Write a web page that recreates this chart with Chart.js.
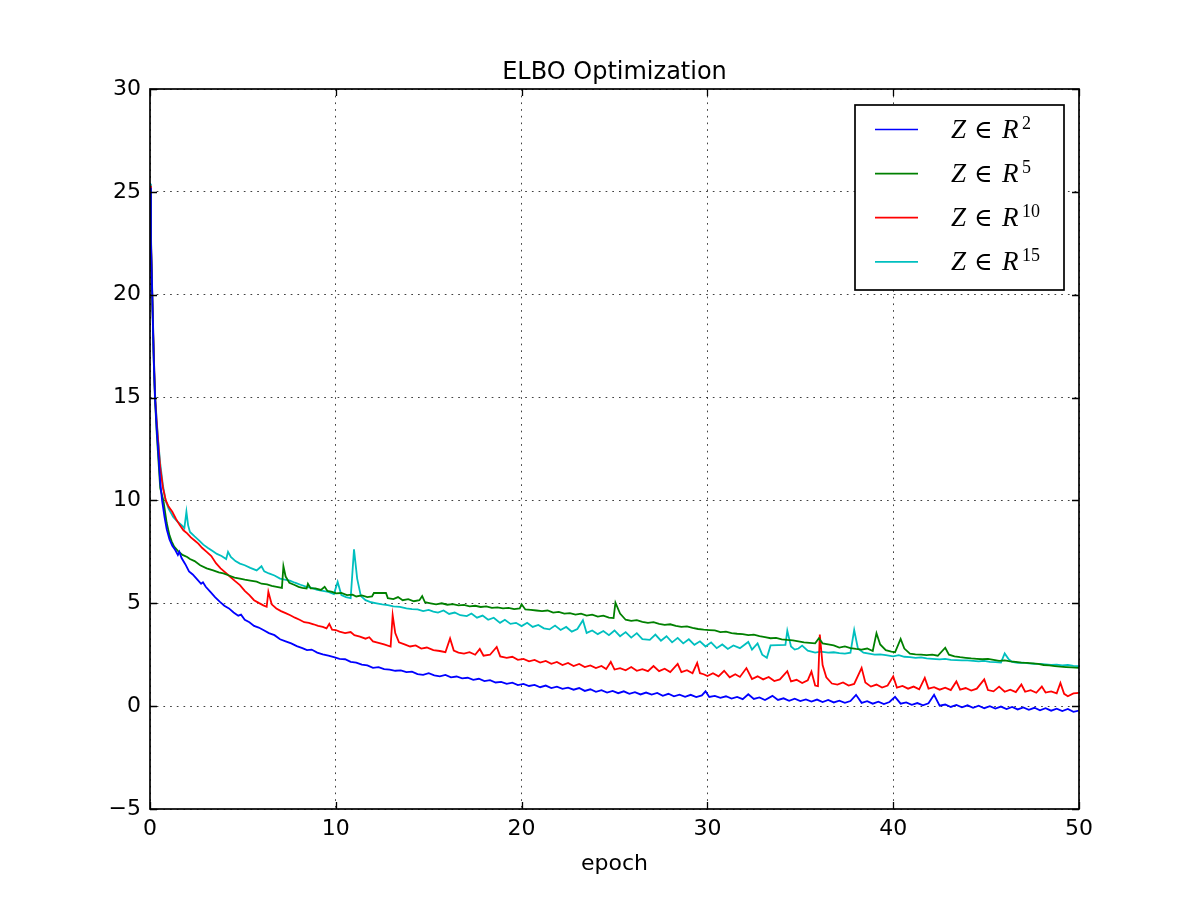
<!DOCTYPE html>
<html>
<head>
<meta charset="utf-8">
<title>ELBO Optimization</title>
<script src="https://cdn.jsdelivr.net/npm/chart.js@4/dist/chart.umd.min.js"></script>
<style>
  html, body { margin: 0; padding: 0; background: #fff; }
  canvas { display: block; }
</style>
</head>
<body>
<canvas id="elboChart" width="1200" height="900"></canvas>
<script>
// Axis ticks
const xTicks = [0, 10, 20, 30, 40, 50];
const yTicks = [-5, 0, 5, 10, 15, 20, 25, 30];

// Series labels (legend): base text + superscript
const seriesDims = ['2', '5', '10', '15'];
const seriesColours = ['#0000ff', '#008000', '#ff0000', '#00bfbf'];

// [epoch, loss]
const zR2 = [[0,25.2],[0.05,22.6],[0.12,20],[0.2,16.9],[0.27,15],[0.36,13.5],[0.45,12.3],[0.55,10.9],[0.65,10],[0.78,9.2],[0.9,8.6],[1.05,8.1],[1.2,7.8],[1.35,7.6],[1.5,7.35],[1.58,7.5],[1.7,7.2],[1.9,6.9],[2.1,6.55],[2.3,6.4],[2.55,6.15],[2.75,5.95],[2.85,6.02],[3.0,5.8],[3.25,5.55],[3.5,5.3],[3.75,5.08],[4.0,4.88],[4.25,4.75],[4.5,4.55],[4.75,4.4],[4.9,4.45],[5.1,4.2],[5.35,4.08],[5.6,3.9],[5.85,3.82],[6.1,3.7],[6.4,3.55],[6.7,3.45],[7.0,3.25],[7.3,3.15],[7.6,3.05],[7.9,2.92],[8.2,2.82],[8.45,2.72],[8.7,2.75],[9.0,2.6],[9.3,2.52],[9.6,2.45],[9.9,2.38],[10.2,2.3],[10.5,2.28],[10.8,2.15],[11.1,2.12],[11.4,2.02],[11.7,1.98],[12.0,1.86],[12.3,1.9],[12.6,1.8],[12.9,1.78],[13.2,1.72],[13.5,1.74],[13.8,1.65],[14.1,1.68],[14.4,1.56],[14.7,1.52],[15.0,1.6],[15.3,1.5],[15.6,1.45],[15.9,1.52],[16.2,1.4],[16.5,1.44],[16.8,1.35],[17.1,1.38],[17.4,1.28],[17.7,1.33],[18.0,1.22],[18.3,1.26],[18.6,1.15],[18.9,1.18],[19.2,1.08],[19.5,1.14],[19.8,1.02],[20.1,1.08],[20.4,0.98],[20.7,1.03],[21.0,0.92],[21.3,1.0],[21.6,0.88],[21.9,0.95],[22.2,0.84],[22.5,0.9],[22.8,0.8],[23.1,0.88],[23.4,0.74],[23.7,0.82],[24.0,0.7],[24.3,0.78],[24.6,0.66],[24.9,0.74],[25.2,0.63],[25.5,0.72],[25.8,0.6],[26.1,0.68],[26.4,0.57],[26.7,0.66],[27.0,0.56],[27.3,0.64],[27.6,0.5],[27.9,0.6],[28.2,0.48],[28.5,0.56],[28.8,0.45],[29.1,0.55],[29.4,0.44],[29.7,0.52],[29.9,0.72],[30.1,0.45],[30.4,0.5],[30.7,0.4],[31.0,0.48],[31.3,0.37],[31.6,0.45],[31.9,0.34],[32.2,0.58],[32.5,0.35],[32.8,0.42],[33.1,0.3],[33.5,0.5],[33.8,0.3],[34.1,0.38],[34.4,0.26],[34.7,0.36],[35.0,0.25],[35.3,0.33],[35.6,0.22],[35.9,0.32],[36.2,0.2],[36.5,0.3],[36.8,0.18],[37.1,0.27],[37.4,0.16],[37.7,0.25],[38.0,0.55],[38.3,0.16],[38.6,0.24],[38.9,0.12],[39.2,0.22],[39.5,0.1],[39.8,0.2],[40.1,0.45],[40.4,0.12],[40.7,0.18],[41.0,0.06],[41.3,0.15],[41.6,0.04],[41.9,0.14],[42.2,0.55],[42.5,0.02],[42.8,0.08],[43.1,-0.04],[43.4,0.06],[43.7,-0.06],[44.0,0.04],[44.3,-0.08],[44.6,0.02],[44.9,-0.1],[45.2,0.0],[45.5,-0.12],[45.8,-0.02],[46.1,-0.14],[46.4,-0.04],[46.7,-0.16],[47.0,-0.06],[47.3,-0.18],[47.6,-0.08],[47.9,-0.2],[48.2,-0.1],[48.5,-0.22],[48.8,-0.12],[49.1,-0.24],[49.4,-0.14],[49.7,-0.28],[50,-0.22]];

const zR5 = [[0,25.1],[0.05,22.4],[0.12,19.9],[0.2,16.8],[0.27,14.9],[0.36,13.3],[0.45,12.0],[0.55,10.6],[0.72,10.0],[0.9,8.9],[1.05,8.3],[1.17,8.0],[1.3,7.75],[1.5,7.55],[1.75,7.35],[2.0,7.25],[2.15,7.15],[2.4,7.05],[2.7,6.85],[3.05,6.7],[3.4,6.6],[3.7,6.5],[3.95,6.45],[4.25,6.35],[4.55,6.25],[4.84,6.2],[5.1,6.15],[5.4,6.1],[5.74,6.05],[6.0,5.95],[6.3,5.92],[6.55,5.85],[6.82,5.8],[7.1,5.75],[7.18,6.8],[7.3,6.3],[7.5,6.0],[7.75,5.9],[8.0,5.8],[8.2,5.75],[8.43,5.72],[8.5,5.95],[8.65,5.72],[8.9,5.72],[9.2,5.65],[9.4,5.8],[9.55,5.6],[9.8,5.55],[10.0,5.48],[10.3,5.5],[10.6,5.4],[10.9,5.42],[11.1,5.33],[11.4,5.38],[11.7,5.3],[11.95,5.33],[12.05,5.5],[12.7,5.5],[12.8,5.25],[13.1,5.2],[13.35,5.3],[13.6,5.15],[13.9,5.2],[14.2,5.1],[14.5,5.15],[14.65,5.35],[14.8,5.05],[15.1,5.0],[15.4,4.95],[15.7,5.0],[16.0,4.93],[16.3,4.96],[16.6,4.9],[16.9,4.92],[17.2,4.85],[17.5,4.88],[17.8,4.82],[18.1,4.85],[18.4,4.78],[18.7,4.8],[19.0,4.75],[19.3,4.78],[19.6,4.72],[19.9,4.75],[20.0,4.95],[20.2,4.7],[20.5,4.68],[20.8,4.65],[21.1,4.62],[21.4,4.65],[21.7,4.55],[22.0,4.58],[22.3,4.5],[22.6,4.52],[22.9,4.45],[23.2,4.5],[23.5,4.4],[23.8,4.45],[24.1,4.35],[24.4,4.4],[24.7,4.3],[24.95,4.28],[25.05,5.03],[25.3,4.5],[25.6,4.2],[25.9,4.15],[26.2,4.18],[26.5,4.1],[26.8,4.05],[27.1,4.08],[27.4,4.0],[27.7,3.95],[28.0,3.98],[28.3,3.9],[28.6,3.85],[28.9,3.88],[29.2,3.8],[29.5,3.75],[29.8,3.72],[30.1,3.7],[30.4,3.68],[30.7,3.6],[31.0,3.62],[31.3,3.55],[31.6,3.52],[31.9,3.5],[32.2,3.45],[32.5,3.48],[32.8,3.4],[33.1,3.35],[33.4,3.3],[33.7,3.32],[34.0,3.25],[34.3,3.22],[34.6,3.2],[34.9,3.15],[35.2,3.1],[35.5,3.08],[35.8,3.05],[36.0,3.3],[36.2,3.05],[36.5,3.0],[36.8,2.95],[37.1,2.85],[37.4,2.9],[37.7,2.82],[38.0,2.78],[38.3,2.75],[38.6,2.8],[38.9,2.68],[39.1,3.55],[39.3,3.0],[39.6,2.72],[39.9,2.65],[40.1,2.62],[40.4,3.27],[40.6,2.8],[40.9,2.55],[41.2,2.52],[41.5,2.5],[41.8,2.48],[42.1,2.5],[42.4,2.45],[42.8,2.84],[43.0,2.5],[43.3,2.42],[43.6,2.38],[43.9,2.35],[44.2,2.32],[44.5,2.3],[44.8,2.28],[45.1,2.3],[45.4,2.25],[45.7,2.2],[46.0,2.22],[46.3,2.18],[46.6,2.15],[46.9,2.12],[47.2,2.1],[47.5,2.08],[47.8,2.05],[48.1,2.0],[48.4,1.98],[48.7,1.95],[49.0,1.92],[49.3,1.9],[49.6,1.88],[50,1.86]];

const zR10 = [[0,25.3],[0.05,22.8],[0.12,20.1],[0.2,17.2],[0.27,15.1],[0.36,13.8],[0.45,12.7],[0.55,11.6],[0.7,10.6],[0.85,10.0],[1.0,9.7],[1.2,9.45],[1.4,9.1],[1.6,8.8],[1.8,8.55],[2.0,8.4],[2.2,8.2],[2.4,8.05],[2.6,7.9],[2.8,7.7],[3.05,7.5],[3.3,7.3],[3.55,6.95],[3.8,6.7],[4.05,6.5],[4.3,6.3],[4.55,6.1],[4.84,5.88],[5.1,5.6],[5.35,5.4],[5.6,5.15],[5.85,5.02],[6.1,4.9],[6.28,4.83],[6.37,5.56],[6.55,4.95],[6.8,4.75],[7.05,4.62],[7.3,4.52],[7.55,4.42],[7.8,4.3],[8.05,4.2],[8.3,4.08],[8.55,4.05],[8.8,3.98],[9.05,3.9],[9.3,3.85],[9.5,3.78],[9.65,4.0],[9.8,3.72],[10.0,3.7],[10.2,3.62],[10.5,3.55],[10.8,3.6],[11.0,3.45],[11.3,3.38],[11.6,3.28],[11.8,3.35],[12.0,3.15],[12.3,3.08],[12.6,3.0],[12.95,2.9],[13.06,4.42],[13.2,3.55],[13.4,3.1],[13.7,3.0],[14.0,2.9],[14.3,2.95],[14.6,2.8],[14.9,2.85],[15.25,2.72],[15.6,2.68],[15.9,2.62],[16.15,3.29],[16.35,2.7],[16.6,2.6],[16.9,2.55],[17.2,2.62],[17.5,2.5],[17.75,2.78],[17.95,2.45],[18.3,2.5],[18.66,2.88],[18.85,2.42],[19.2,2.35],[19.5,2.4],[19.8,2.25],[20.1,2.3],[20.4,2.18],[20.7,2.25],[21.0,2.12],[21.3,2.2],[21.6,2.06],[21.9,2.15],[22.2,2.0],[22.5,2.1],[22.8,1.95],[23.1,2.05],[23.4,1.9],[23.7,1.98],[24.0,1.85],[24.3,1.95],[24.55,1.8],[24.8,2.15],[25.0,1.78],[25.3,1.85],[25.6,1.74],[25.9,1.9],[26.2,1.72],[26.5,1.8],[26.8,1.7],[27.1,1.95],[27.4,1.7],[27.7,1.82],[28.0,1.66],[28.4,2.05],[28.6,1.65],[28.9,1.75],[29.2,1.6],[29.45,2.1],[29.6,1.6],[29.8,1.55],[30.0,1.46],[30.3,1.6],[30.6,1.45],[30.9,1.72],[31.2,1.4],[31.5,1.55],[31.75,1.42],[32.1,1.85],[32.4,1.32],[32.7,1.45],[33.0,1.3],[33.3,1.42],[33.6,1.22],[33.9,1.3],[34.3,1.7],[34.5,1.2],[34.8,1.28],[35.1,1.12],[35.4,1.25],[35.6,1.68],[35.8,1.0],[35.95,0.97],[36.05,3.48],[36.2,2.0],[36.4,1.4],[36.7,1.1],[37.0,1.05],[37.3,1.15],[37.6,1.0],[37.9,1.08],[38.3,1.86],[38.5,1.15],[38.8,0.95],[39.1,1.05],[39.4,0.9],[39.7,1.0],[40.0,1.45],[40.2,0.9],[40.5,0.98],[40.8,0.85],[41.1,0.95],[41.4,0.82],[41.7,1.38],[41.9,0.85],[42.2,0.92],[42.5,0.8],[42.8,0.9],[43.1,0.78],[43.4,1.2],[43.6,0.8],[43.9,0.88],[44.2,0.76],[44.5,0.85],[44.9,1.3],[45.1,0.78],[45.4,0.72],[45.7,0.95],[46.0,0.7],[46.3,0.8],[46.6,0.68],[46.9,1.05],[47.1,0.7],[47.4,0.78],[47.7,0.65],[48.0,0.95],[48.2,0.66],[48.5,0.72],[48.8,0.62],[49.0,1.13],[49.2,0.6],[49.4,0.48],[49.7,0.62],[50,0.65]];

const zR15 = [[0,25.4],[0.05,23],[0.12,20.2],[0.2,17.3],[0.27,15.2],[0.36,13.9],[0.45,12.8],[0.55,11.8],[0.7,10.7],[0.84,10.0],[1.0,9.6],[1.25,9.2],[1.5,8.95],[1.7,8.8],[1.85,8.65],[1.96,9.45],[2.05,8.8],[2.15,8.47],[2.4,8.25],[2.65,8.05],[2.87,7.85],[3.1,7.7],[3.35,7.55],[3.6,7.4],[3.85,7.3],[4.1,7.15],[4.2,7.5],[4.35,7.25],[4.6,7.05],[4.84,6.93],[5.1,6.85],[5.4,6.72],[5.74,6.6],[6.0,6.8],[6.15,6.55],[6.4,6.45],[6.7,6.35],[7.0,6.2],[7.25,6.15],[7.53,6.1],[7.8,6.0],[8.1,5.9],[8.43,5.8],[8.7,5.75],[9.0,5.65],[9.3,5.6],[9.6,5.55],[9.9,5.45],[10.1,6.04],[10.3,5.4],[10.55,5.3],[10.8,5.25],[10.98,7.62],[11.15,6.2],[11.35,5.35],[11.6,5.15],[11.9,5.05],[12.2,5.0],[12.5,4.95],[12.8,4.91],[13.1,4.85],[13.45,4.83],[13.8,4.75],[14.1,4.72],[14.4,4.7],[14.7,4.62],[15.0,4.68],[15.25,4.6],[15.5,4.55],[15.8,4.65],[16.1,4.48],[16.4,4.55],[16.7,4.42],[17.05,4.38],[17.3,4.5],[17.6,4.3],[17.9,4.4],[18.2,4.2],[18.5,4.3],[18.84,4.05],[19.1,4.2],[19.4,4.0],[19.7,4.05],[20.0,3.89],[20.3,4.05],[20.6,3.85],[20.9,3.95],[21.2,3.78],[21.5,3.73],[21.8,3.92],[22.1,3.7],[22.4,3.85],[22.7,3.62],[23.0,3.75],[23.3,4.18],[23.5,3.56],[23.8,3.68],[24.1,3.5],[24.4,3.65],[24.7,3.45],[25.0,3.68],[25.3,3.4],[25.6,3.6],[25.9,3.33],[26.2,3.55],[26.5,3.26],[26.9,3.22],[27.2,3.48],[27.5,3.18],[27.8,3.4],[28.1,3.1],[28.4,3.32],[28.7,3.05],[29.0,3.25],[29.3,2.98],[29.6,3.15],[29.9,2.9],[30.2,3.1],[30.5,2.82],[30.8,3.0],[31.1,2.78],[31.4,2.95],[31.75,2.82],[32.2,3.12],[32.4,2.75],[32.7,3.05],[32.95,2.5],[33.2,2.35],[33.4,2.95],[34.2,2.98],[34.3,3.67],[34.5,2.9],[34.7,2.75],[34.9,2.8],[35.1,2.94],[35.4,2.7],[35.8,2.6],[36.1,2.65],[36.5,2.6],[36.8,2.62],[37.1,2.58],[37.4,2.55],[37.7,2.6],[37.9,3.7],[38.1,2.8],[38.4,2.6],[38.7,2.55],[39.0,2.5],[39.3,2.52],[39.6,2.48],[40.0,2.42],[40.3,2.48],[40.6,2.4],[40.9,2.38],[41.2,2.35],[41.5,2.37],[41.8,2.32],[42.1,2.3],[42.5,2.27],[42.8,2.3],[43.1,2.25],[43.4,2.24],[43.7,2.22],[44.0,2.22],[44.3,2.2],[44.6,2.18],[44.9,2.2],[45.2,2.15],[45.5,2.14],[45.8,2.12],[46.0,2.56],[46.2,2.3],[46.4,2.15],[46.7,2.1],[47.0,2.12],[47.3,2.08],[47.6,2.06],[47.9,2.05],[48.2,2.03],[48.5,2.0],[48.8,2.02],[49.1,1.98],[49.4,2.0],[49.7,1.96],[50,1.95]];

const allSeries = [zR2, zR5, zR10, zR15];

const FONT = '"DejaVu Sans", sans-serif';
const MATH_FONT = '"Liberation Serif", "DejaVu Serif", serif';

// ------------------------------------------------------------------------
// Frame, inward ticks, title, x label and the mathtext legend
// ------------------------------------------------------------------------
const decorations = {
  id: 'decorations',
  afterDraw(chart) {
    const { ctx, chartArea: a, scales } = chart;
    ctx.save();

    // inward tick marks on all four sides
    ctx.strokeStyle = '#000';
    ctx.lineWidth = 1.3;
    const tl = 7;
    ctx.beginPath();
    xTicks.forEach(v => {
      const px = Math.round(scales.x.getPixelForValue(v)) + 0.5;
      ctx.moveTo(px, a.bottom); ctx.lineTo(px, a.bottom - tl);
      ctx.moveTo(px, a.top); ctx.lineTo(px, a.top + tl);
    });
    yTicks.forEach(v => {
      const py = Math.round(scales.y.getPixelForValue(v)) + 0.5;
      ctx.moveTo(a.left, py); ctx.lineTo(a.left + tl, py);
      ctx.moveTo(a.right, py); ctx.lineTo(a.right - tl, py);
    });
    ctx.stroke();

    // frame
    ctx.lineWidth = 1.7;
    ctx.strokeRect(a.left, a.top, a.right - a.left, a.bottom - a.top);

    // title and x label
    ctx.fillStyle = '#000';
    ctx.textAlign = 'center';
    ctx.textBaseline = 'alphabetic';
    ctx.font = '24px ' + FONT;
    ctx.fillText('ELBO Optimization', (a.left + a.right) / 2, 79);
    ctx.font = '22px ' + FONT;
    ctx.fillText('epoch', (a.left + a.right) / 2, 870);

    // legend box
    const bx = 855, by = 105, bw = 209, bh = 185;
    ctx.fillStyle = '#fff';
    ctx.fillRect(bx, by, bw, bh);
    ctx.lineWidth = 1.7;
    ctx.strokeStyle = '#000';
    ctx.strokeRect(bx, by, bw, bh);

    ctx.textAlign = 'left';
    seriesDims.forEach((dim, i) => {
      const cy = 129.5 + i * 44.1;
      ctx.strokeStyle = seriesColours[i];
      ctx.lineWidth = 1.7;
      ctx.beginPath();
      ctx.moveTo(875, cy); ctx.lineTo(918, cy);
      ctx.stroke();

      const base = cy + 8;
      ctx.fillStyle = '#000';
      ctx.font = 'italic 27px ' + MATH_FONT;
      ctx.fillText('Z', 951, base);
      ctx.font = '25px ' + MATH_FONT;
      ctx.fillText('\u2208', 974, base);
      ctx.font = 'italic 27px ' + MATH_FONT;
      ctx.fillText('R', 1002, base);
      ctx.font = '18px ' + MATH_FONT;
      ctx.fillText(dim, 1022, base - 9);
    });

    ctx.restore();
  }
};

new Chart(document.getElementById('elboChart').getContext('2d'), {
  type: 'line',
  data: {
    datasets: allSeries.map((s, i) => ({
      label: 'Z \u2208 R^' + seriesDims[i],
      data: s.map(p => ({ x: p[0], y: p[1] })),
      borderColor: seriesColours[i],
      backgroundColor: 'transparent',
      borderWidth: 1.8,
      pointRadius: 0,
      tension: 0,
      fill: false,
    })),
  },
  options: {
    responsive: false,
    animation: false,
    events: [],
    layout: { padding: { left: 0, right: 121, top: 89, bottom: 0 } },
    plugins: {
      legend: { display: false },
      title: { display: false },
      tooltip: { enabled: false },
    },
    scales: {
      x: {
        type: 'linear',
        min: 0,
        max: 50,
        afterFit: s => { s.height = 91; },
        afterBuildTicks: s => { s.ticks = xTicks.map(v => ({ value: v })); },
        ticks: { color: '#000', font: { family: FONT, size: 22 }, padding: 7, maxRotation: 0 },
        grid: { color: 'rgba(0,0,0,0.75)', lineWidth: 1, drawTicks: false },
        border: { display: false, dash: [1.7, 5] },
      },
      y: {
        type: 'linear',
        min: -5,
        max: 30,
        afterFit: s => { s.width = 150; },
        afterBuildTicks: s => { s.ticks = yTicks.map(v => ({ value: v })); },
        ticks: {
          color: '#000',
          font: { family: FONT, size: 22 },
          padding: 9,
          callback: v => (v < 0 ? '\u2212' + Math.abs(v) : String(v)),
        },
        grid: { color: 'rgba(0,0,0,0.75)', lineWidth: 1, drawTicks: false },
        border: { display: false, dash: [1.7, 5] },
      },
    },
  },
  plugins: [decorations],
});
</script>
</body>
</html>
